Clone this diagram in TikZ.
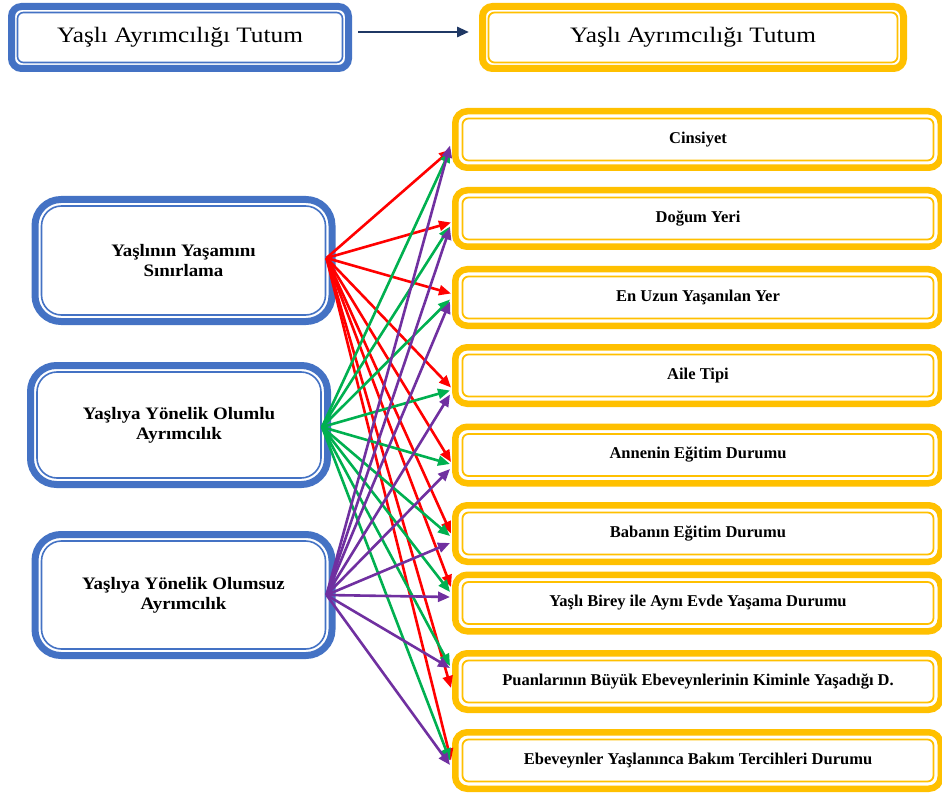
\documentclass[tikz,border=0pt]{standalone}
\usepackage{fontspec}
\setmainfont{Liberation Serif}
\newfontfamily\topfont[FakeStretch=1.15]{Liberation Serif}
\newfontfamily\leftfont[FakeStretch=1.08]{Liberation Serif}
\usetikzlibrary{arrows.meta}
\definecolor{bblue}{HTML}{4472C4}
\definecolor{yel}{HTML}{FFC000}
\definecolor{navy}{HTML}{1F3864}
\definecolor{ared}{HTML}{FF0000}
\definecolor{agreen}{HTML}{00B050}
\definecolor{apurple}{HTML}{7030A0}
\tikzset{
  topbox/.style={rectangle, line width=7pt, rounded corners=10pt, fill=white,
    minimum width=#1, minimum height=62pt, inner sep=0pt,
    font=\topfont\fontsize{22}{26}\selectfont},
  lbox/.style={rectangle, draw=bblue, line width=7pt, rounded corners=26pt, fill=white,
    minimum width=297pt, inner sep=0pt, align=center,
    font=\leftfont\bfseries\fontsize{17.5}{20}\selectfont},
  rbox/.style={rectangle, draw=yel, line width=6.5pt, rounded corners=12pt, fill=white,
    minimum width=485.5pt, minimum height=56.5pt, inner sep=0pt,
    font=\bfseries\fontsize{16.5}{19}\selectfont},
  binner/.style={draw=bblue, line width=1.6pt},
  yinner/.style={draw=yel, line width=1.8pt},
  conn/.style={line width=2.6pt, -{Triangle[length=12pt,width=10pt]}},
  redc/.style={conn, draw=ared, fill=ared},
  greenc/.style={conn, draw=agreen, fill=agreen},
  purplec/.style={conn, draw=apurple, fill=apurple},
  toparrow/.style={line width=2.8pt, draw=navy, -{Triangle[length=12pt,width=10pt]}}
}
\begin{document}
\begin{tikzpicture}[x=1pt,y=-1pt]
\useasboundingbox[fill=white] (0,0) rectangle (942,794);

% top boxes
\node[topbox=337pt, draw=bblue] (T1) at (180,37.5) {Yaşlı Ayrımcılığı Tutum};
\node[topbox=421pt, draw=yel] (T2) at (693,37.5) {Yaşlı Ayrımcılığı Tutum};
\draw[binner, rounded corners=6pt] ([shift={(9.5pt,-9.5pt)}]T1.north west) rectangle ([shift={(-9.5pt,9.5pt)}]T1.south east);
\draw[yinner, rounded corners=6pt] ([shift={(9.5pt,-9.5pt)}]T2.north west) rectangle ([shift={(-9.5pt,9.5pt)}]T2.south east);
\draw[toparrow] ([xshift=6pt,yshift=5.5pt]T1.east) -- ([xshift=-10pt,yshift=5.5pt]T2.west);

% left boxes
\node[lbox, minimum height=122pt] (L1) at (183.5,260.5) {Yaşlının Yaşamını\\Sınırlama};
\node[lbox, minimum height=119pt] (L2) at (179,425) {Yaşlıya Yönelik Olumlu\\Ayrımcılık};
\node[lbox, minimum height=121pt] (L3) at (183.5,595) {Yaşlıya Yönelik Olumsuz\\Ayrımcılık};
\foreach \n in {L1,L2,L3}
  \draw[binner, rounded corners=20pt] ([shift={(10pt,-10pt)}]\n.north west) rectangle ([shift={(-10pt,10pt)}]\n.south east);

% right boxes
\node[rbox] (R1) at (698,139.5) {Cinsiyet};
\node[rbox] (R2) at (698,218.5) {Doğum Yeri};
\node[rbox] (R3) at (698,297.5) {En Uzun Yaşanılan Yer};
\node[rbox] (R4) at (698,375.5) {Aile Tipi};
\node[rbox] (R5) at (698,455) {Annenin Eğitim Durumu};
\node[rbox] (R6) at (698,533.5) {Babanın Eğitim Durumu};
\node[rbox] (R7) at (698,603) {Yaşlı Birey ile Aynı Evde Yaşama Durumu};
\node[rbox] (R8) at (698,681.5) {Puanlarının Büyük Ebeveynlerinin Kiminle Yaşadığı D.};
\node[rbox] (R9) at (698,760.5) {Ebeveynler Yaşlanınca Bakım Tercihleri Durumu};
\foreach \n in {R1,R2,R3,R4,R5,R6,R7,R8,R9}
  \draw[yinner, rounded corners=6pt] ([shift={(10.5pt,-10.5pt)}]\n.north west) rectangle ([shift={(-10.5pt,10.5pt)}]\n.south east);

% connectors
\foreach \t/\s in {R1/-10, R2/-4, R3/4, R4/-12, R5/-7, R6/0, R7/16, R8/-6.5, R9/0}
  \draw[redc] ([xshift=-9pt,yshift=2.5pt]L1.east) -- ([xshift=-1pt,yshift=\s pt]\t.west);
\foreach \t/\s in {R1/-11, R2/-8, R3/-2, R4/-15, R5/-9, R6/-2.5, R7/11, R8/15.5, R9/0}
  \draw[greenc] ([xshift=-9pt,yshift=-2pt]L2.east) -- ([xshift=-2pt,yshift=\s pt]\t.west);
\foreach \t/\s in {R1/-6, R2/-9, R3/-4, R4/-19, R5/-14, R6/-9.5, R7/6, R8/13.5, R9/-4.5}
  \draw[purplec] ([xshift=-9pt]L3.east) -- ([xshift=-2pt,yshift=\s pt]\t.west);
\end{tikzpicture}
\end{document}
